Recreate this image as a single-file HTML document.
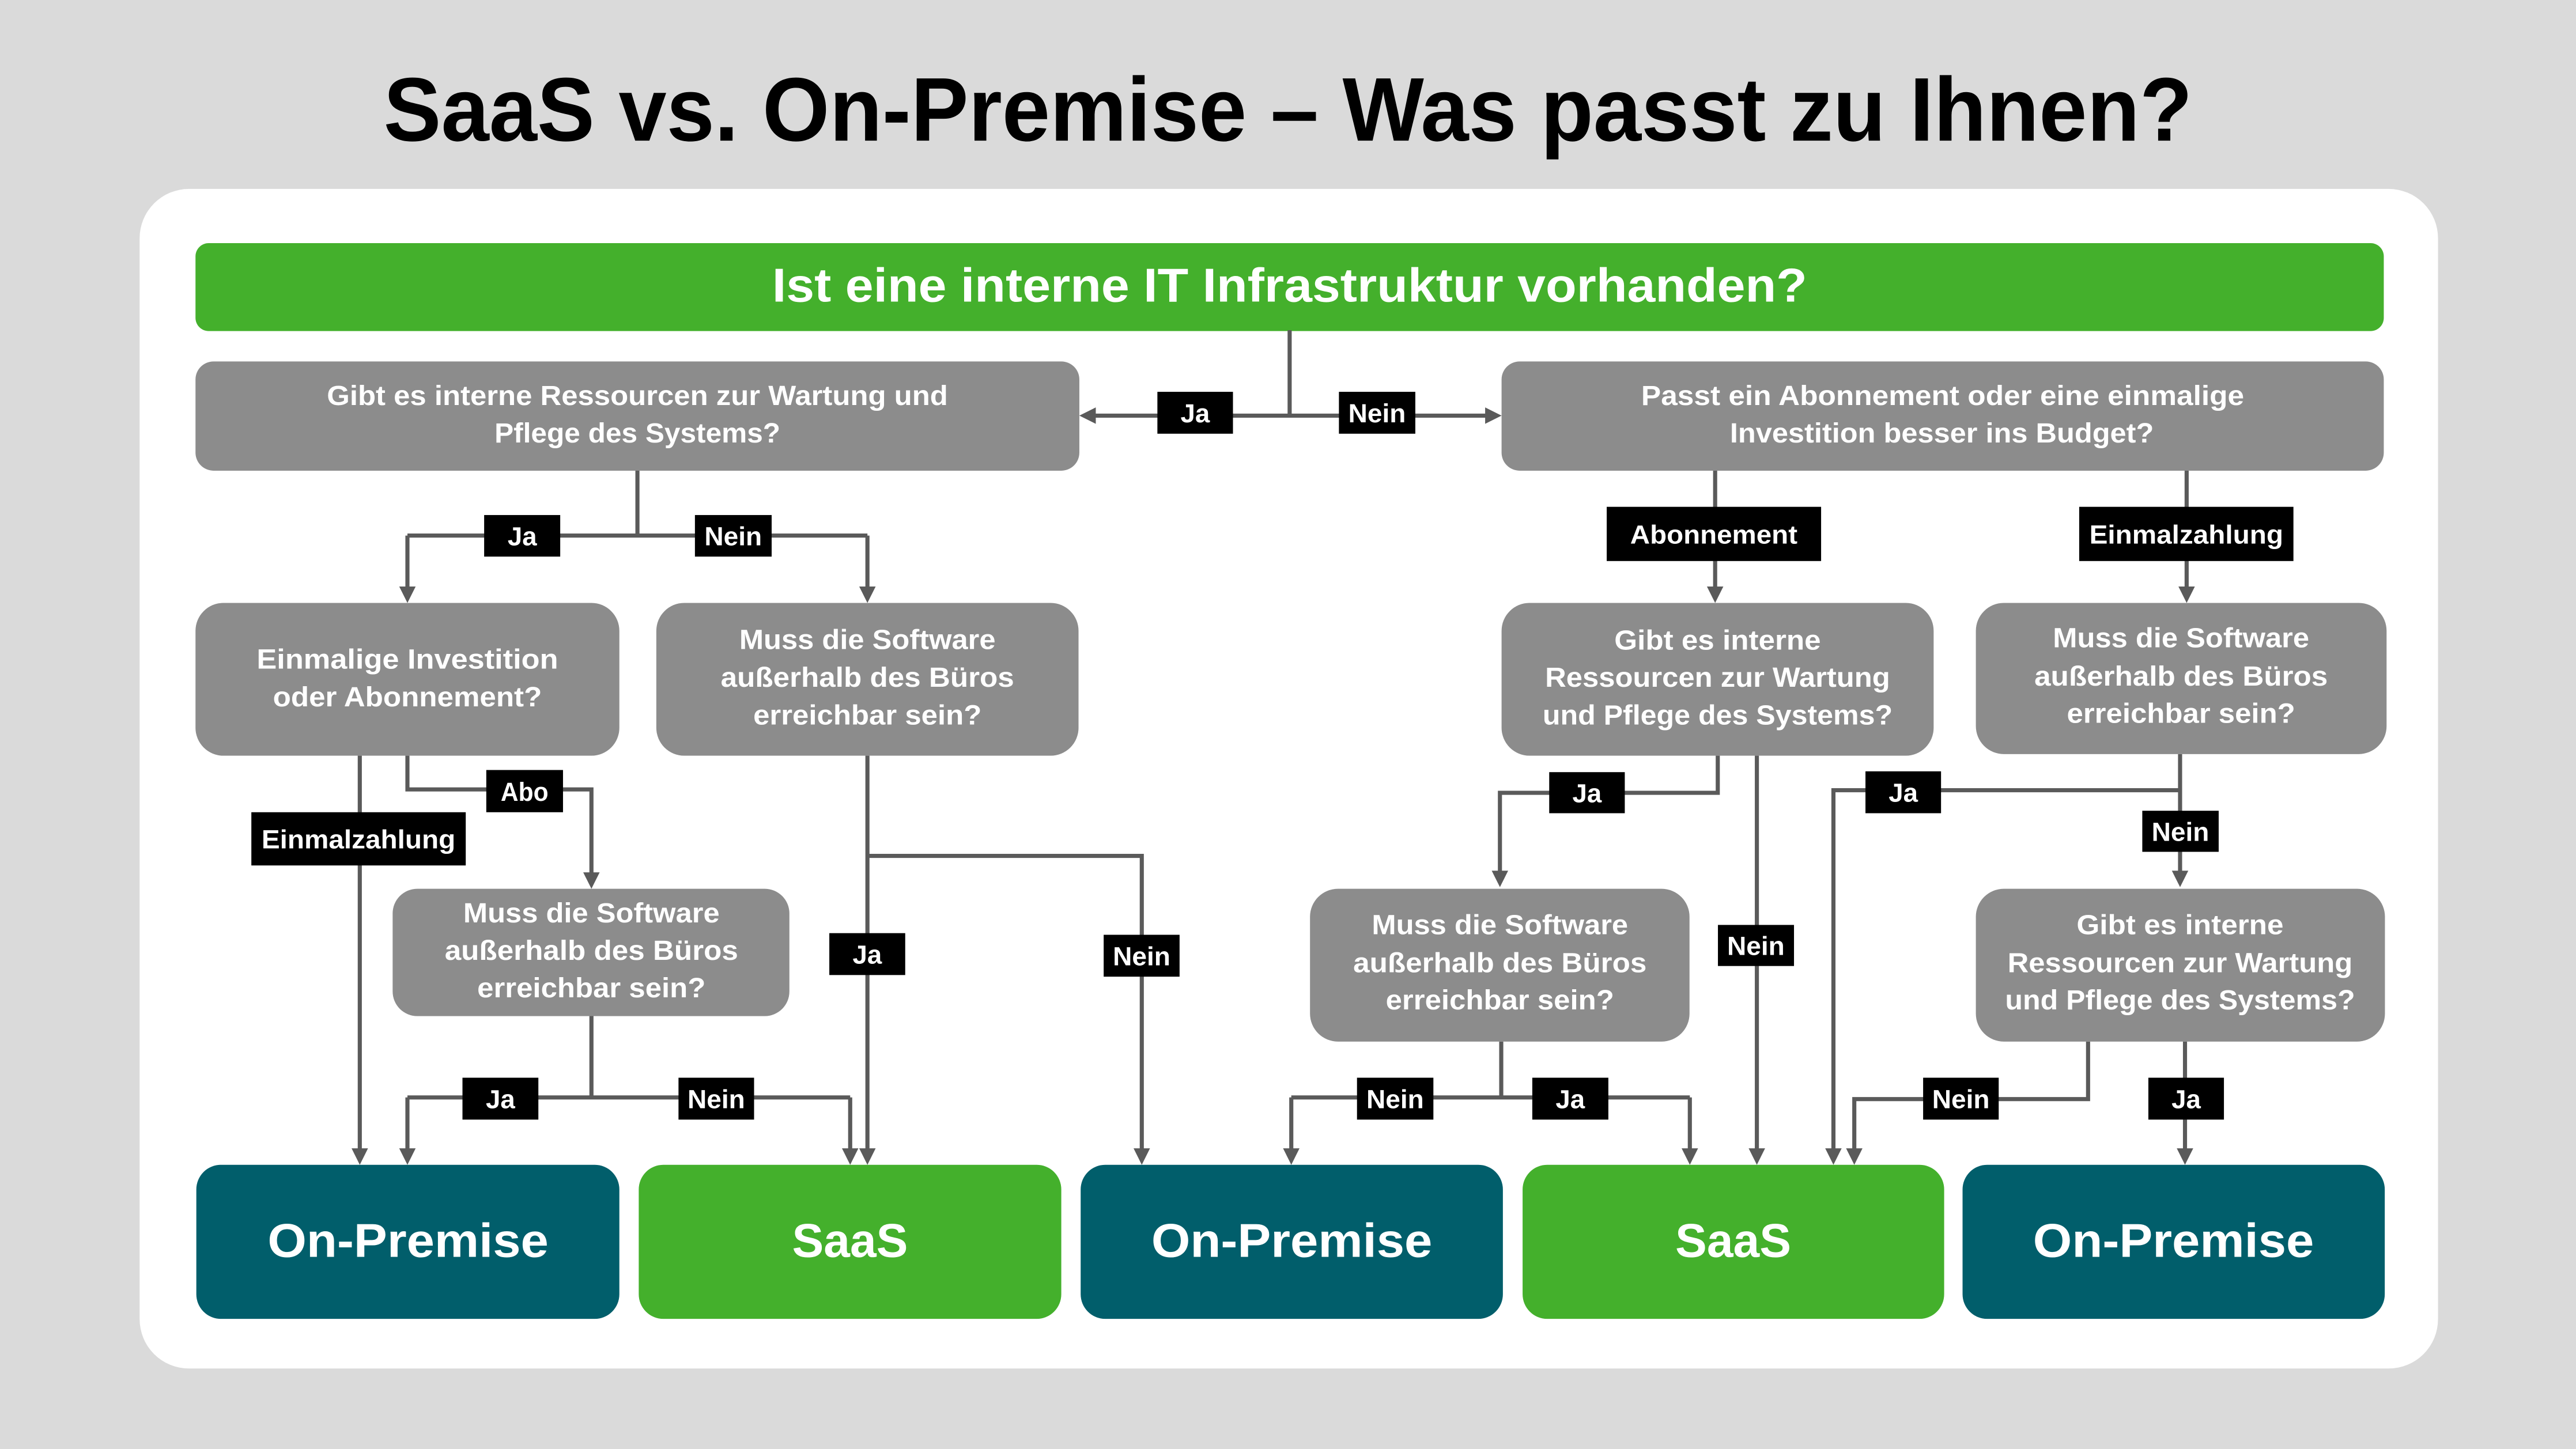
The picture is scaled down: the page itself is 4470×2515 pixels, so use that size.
<!DOCTYPE html>
<html><head><meta charset="utf-8"><style>
html,body{margin:0;padding:0;background:#dadada;overflow:hidden}
svg{display:block}
text{font-family:"Liberation Sans",Arial,sans-serif;font-weight:bold}
</style></head><body>
<svg width="4470" height="2515" viewBox="0 0 1568 882" preserveAspectRatio="none" xmlns="http://www.w3.org/2000/svg">
<rect x="0" y="0" width="1568" height="882" fill="#dadada"/>
<text x="784" y="85.6" font-size="55" text-anchor="middle" fill="#000" textLength="1101" lengthAdjust="spacingAndGlyphs">SaaS vs. On-Premise – Was passt zu Ihnen?</text>
<rect x="85" y="115" width="1399" height="718" rx="30" ry="30" fill="#fff"/>
<rect x="119" y="148" width="1332" height="53.5" rx="8" fill="#44b02c"/>
<text x="785" y="183.6" font-size="29" text-anchor="middle" fill="#fff" textLength="630" lengthAdjust="spacingAndGlyphs">Ist eine interne IT Infrastruktur vorhanden?</text>

<!-- connectors -->
<g stroke="#5a5a5a" stroke-width="2.5" fill="none">
<path d="M785 201 V253 M662 253 H909"/>
<path d="M388 286 V326 M248 326 H528 M248 326 V358 M528 326 V358"/>
<path d="M219 460 V700"/>
<path d="M248 460 V480.5 H360 V532"/>
<path d="M360 618 V668 M248 668 H517.5 M248 668 V700 M517.5 668 V700"/>
<path d="M528 460 V700 M528 521 H695 V700"/>
<path d="M1044 286 V358"/>
<path d="M1331 286 V358"/>
<path d="M1045.6 460 V482.6 H913 V531"/>
<path d="M1069.4 460 V700"/>
<path d="M1327 459 V531 M1327 481 H1116 V700"/>
<path d="M1271 634 V669 H1128.7 V700"/>
<path d="M1330 634 V700"/>
<path d="M913.8 634 V668 M786 668 H1028.6 M786 668 V700 M1028.6 668 V700"/>
</g>
<g fill="#5a5a5a">
<polygon points="657,253 667,248 667,258"/>
<polygon points="914,253 904,248 904,258"/>
<polygon points="243,357 253,357 248,367"/>
<polygon points="523,357 533,357 528,367"/>
<polygon points="214,699 224,699 219,709"/>
<polygon points="355,531 365,531 360,541"/>
<polygon points="243,699 253,699 248,709"/>
<polygon points="512.5,699 522.5,699 517.5,709"/>
<polygon points="523,699 533,699 528,709"/>
<polygon points="690,699 700,699 695,709"/>
<polygon points="1039,357 1049,357 1044,367"/>
<polygon points="1326,357 1336,357 1331,367"/>
<polygon points="908,530 918,530 913,540"/>
<polygon points="1064.4,699 1074.4,699 1069.4,709"/>
<polygon points="1322,530 1332,530 1327,540"/>
<polygon points="1111,699 1121,699 1116,709"/>
<polygon points="1123.7,699 1133.7,699 1128.7,709"/>
<polygon points="1325,699 1335,699 1330,709"/>
<polygon points="781,699 791,699 786,709"/>
<polygon points="1023.6,699 1033.6,699 1028.6,709"/>
</g>

<!-- gray question boxes -->
<g fill="#8c8c8c">
<rect x="119" y="220" width="538" height="66.5" rx="11"/>
<rect x="914" y="220" width="537" height="66.5" rx="11"/>
<rect x="119" y="367" width="258" height="93" rx="17"/>
<rect x="399.5" y="367" width="257" height="93" rx="17"/>
<rect x="239" y="541" width="241.5" height="77.5" rx="15"/>
<rect x="914" y="367" width="263" height="93" rx="17"/>
<rect x="1202.7" y="367" width="250" height="92" rx="17"/>
<rect x="797.4" y="541" width="231" height="93" rx="17"/>
<rect x="1202.7" y="541" width="249" height="93" rx="17"/>
</g>
<g fill="#fff" text-anchor="middle" font-size="17" lengthAdjust="spacingAndGlyphs">
<text x="388" y="246.6" textLength="378" lengthAdjust="spacingAndGlyphs">Gibt es interne Ressourcen zur Wartung und</text>
<text x="388" y="269.4" textLength="174" lengthAdjust="spacingAndGlyphs">Pflege des Systems?</text>
<text x="1182.5" y="246.6" textLength="367" lengthAdjust="spacingAndGlyphs">Passt ein Abonnement oder eine einmalige</text>
<text x="1182" y="269.4" textLength="258" lengthAdjust="spacingAndGlyphs">Investition besser ins Budget?</text>

<text x="248" y="407" textLength="183.5" lengthAdjust="spacingAndGlyphs">Einmalige Investition</text>
<text x="248" y="430" textLength="163.7" lengthAdjust="spacingAndGlyphs">oder Abonnement?</text>

<text x="528" y="395" textLength="156" lengthAdjust="spacingAndGlyphs">Muss die Software</text>
<text x="528" y="418" textLength="178.6" lengthAdjust="spacingAndGlyphs">außerhalb des Büros</text>
<text x="528" y="441" textLength="139" lengthAdjust="spacingAndGlyphs">erreichbar sein?</text>

<text x="360" y="561.5" textLength="156" lengthAdjust="spacingAndGlyphs">Muss die Software</text>
<text x="360" y="584.3" textLength="178.6" lengthAdjust="spacingAndGlyphs">außerhalb des Büros</text>
<text x="360" y="607" textLength="139" lengthAdjust="spacingAndGlyphs">erreichbar sein?</text>

<text x="1045.5" y="395.5" textLength="125.7" lengthAdjust="spacingAndGlyphs">Gibt es interne</text>
<text x="1045.5" y="418" textLength="210" lengthAdjust="spacingAndGlyphs">Ressourcen zur Wartung</text>
<text x="1045.5" y="441" textLength="213" lengthAdjust="spacingAndGlyphs">und Pflege des Systems?</text>

<text x="1327.6" y="394" textLength="156" lengthAdjust="spacingAndGlyphs">Muss die Software</text>
<text x="1327.6" y="417.4" textLength="178.6" lengthAdjust="spacingAndGlyphs">außerhalb des Büros</text>
<text x="1327.6" y="440" textLength="139" lengthAdjust="spacingAndGlyphs">erreichbar sein?</text>

<text x="913" y="568.6" textLength="156" lengthAdjust="spacingAndGlyphs">Muss die Software</text>
<text x="913" y="591.8" textLength="178.6" lengthAdjust="spacingAndGlyphs">außerhalb des Büros</text>
<text x="913" y="614.5" textLength="139" lengthAdjust="spacingAndGlyphs">erreichbar sein?</text>

<text x="1327" y="568.6" textLength="126" lengthAdjust="spacingAndGlyphs">Gibt es interne</text>
<text x="1327" y="591.8" textLength="210" lengthAdjust="spacingAndGlyphs">Ressourcen zur Wartung</text>
<text x="1327" y="614.5" textLength="213" lengthAdjust="spacingAndGlyphs">und Pflege des Systems?</text>
</g>

<!-- labels -->
<g fill="#000">
<rect x="704.5" y="238.5" width="46" height="25.5"/>
<rect x="815" y="238.5" width="46.5" height="25.5"/>
<rect x="294.7" y="313.5" width="46.3" height="25.3"/>
<rect x="423" y="313.5" width="46.7" height="25.3"/>
<rect x="296" y="468.7" width="46.7" height="25.7"/>
<rect x="153" y="494.4" width="130.5" height="32.4"/>
<rect x="281.5" y="656" width="46.2" height="25.5"/>
<rect x="413" y="656" width="46" height="25.5"/>
<rect x="504.8" y="568" width="46.2" height="25.5"/>
<rect x="671.8" y="569" width="46.2" height="25.5"/>
<rect x="978" y="308.5" width="130.5" height="33"/>
<rect x="1265.6" y="308.5" width="130.4" height="33"/>
<rect x="943" y="470" width="46" height="25"/>
<rect x="1045.7" y="563" width="46.3" height="25"/>
<rect x="1135.5" y="469.5" width="46" height="25.5"/>
<rect x="1304" y="493.5" width="46.5" height="25"/>
<rect x="826" y="656" width="46.5" height="25.5"/>
<rect x="932.7" y="656" width="46.3" height="25.5"/>
<rect x="1170.6" y="656" width="46" height="25.5"/>
<rect x="1307.7" y="656" width="46" height="25.5"/>
</g>
<g fill="#fff" text-anchor="middle" font-size="16">
<text x="727.5" y="257">Ja</text>
<text x="838.2" y="257" textLength="35" lengthAdjust="spacingAndGlyphs">Nein</text>
<text x="317.9" y="332" >Ja</text>
<text x="446.3" y="332" textLength="35" lengthAdjust="spacingAndGlyphs">Nein</text>
<text x="319.3" y="487.4" textLength="29" lengthAdjust="spacingAndGlyphs">Abo</text>
<text x="218.2" y="516.4" textLength="118" lengthAdjust="spacingAndGlyphs">Einmalzahlung</text>
<text x="304.6" y="674.6">Ja</text>
<text x="436" y="674.6" textLength="35" lengthAdjust="spacingAndGlyphs">Nein</text>
<text x="527.9" y="586.6">Ja</text>
<text x="694.9" y="587.6" textLength="35" lengthAdjust="spacingAndGlyphs">Nein</text>
<text x="1043.2" y="330.8" textLength="101.8" lengthAdjust="spacingAndGlyphs">Abonnement</text>
<text x="1330.8" y="330.8" textLength="118" lengthAdjust="spacingAndGlyphs">Einmalzahlung</text>
<text x="966" y="488.3">Ja</text>
<text x="1068.8" y="581.3" textLength="35" lengthAdjust="spacingAndGlyphs">Nein</text>
<text x="1158.5" y="488">Ja</text>
<text x="1327.2" y="511.8" textLength="35" lengthAdjust="spacingAndGlyphs">Nein</text>
<text x="849.2" y="674.6" textLength="35" lengthAdjust="spacingAndGlyphs">Nein</text>
<text x="955.8" y="674.6">Ja</text>
<text x="1193.6" y="674.6" textLength="35" lengthAdjust="spacingAndGlyphs">Nein</text>
<text x="1330.7" y="674.6">Ja</text>
</g>

<!-- result boxes -->
<rect x="119.5" y="709" width="257.5" height="93.8" rx="15" fill="#015e6b"/>
<rect x="388.8" y="709" width="257.2" height="93.8" rx="15" fill="#44b02c"/>
<rect x="657.8" y="709" width="257" height="93.8" rx="15" fill="#015e6b"/>
<rect x="926.8" y="709" width="256.6" height="93.8" rx="15" fill="#44b02c"/>
<rect x="1194.6" y="709" width="257" height="93.8" rx="15" fill="#015e6b"/>
<g fill="#fff" text-anchor="middle" font-size="29">
<text x="248.4" y="765" textLength="171" lengthAdjust="spacingAndGlyphs">On-Premise</text>
<text x="517.4" y="765" textLength="70.5" lengthAdjust="spacingAndGlyphs">SaaS</text>
<text x="786.3" y="765" textLength="171" lengthAdjust="spacingAndGlyphs">On-Premise</text>
<text x="1055" y="765" textLength="70.5" lengthAdjust="spacingAndGlyphs">SaaS</text>
<text x="1323" y="765" textLength="171" lengthAdjust="spacingAndGlyphs">On-Premise</text>
</g>
</svg>
</body></html>
